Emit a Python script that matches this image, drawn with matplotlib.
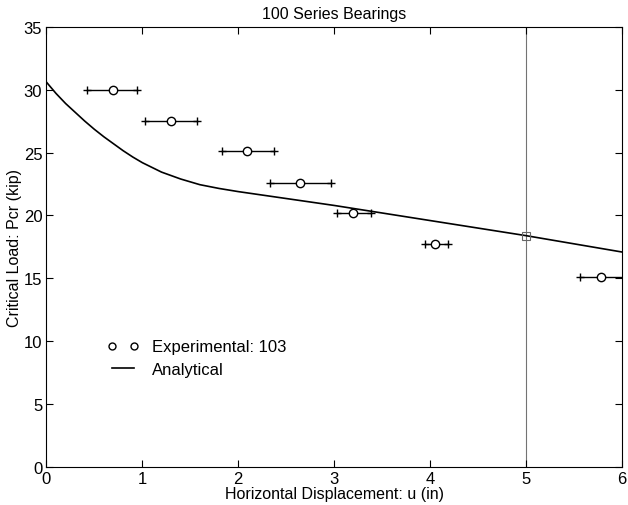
import matplotlib
matplotlib.use("Agg")
import matplotlib.pyplot as plt

plt.rcParams["font.family"] = ["Liberation Sans", "DejaVu Sans"]

# experimental points (mean, range of horizontal displacement)
exp_u = [0.69, 1.30, 2.09, 2.64, 3.20, 4.05, 5.78]
exp_lo = [0.42, 1.03, 1.83, 2.33, 3.03, 3.95, 5.56]
exp_hi = [0.94, 1.57, 2.37, 2.97, 3.38, 4.19, 6.20]
exp_p = [30.0, 27.5, 25.1, 22.6, 20.2, 17.7, 15.1]

# analytical curve
ana_u = [0, 0.1, 0.2, 0.3, 0.4, 0.5, 0.6, 0.7, 0.8, 0.9, 1.0, 1.2, 1.4, 1.6, 1.8, 2.0,
         2.5, 3.0, 3.5, 4.0, 4.5, 5.0, 5.5, 6.0]
ana_p = [30.6, 29.7, 28.9, 28.2, 27.5, 26.85, 26.25, 25.7, 25.15, 24.65, 24.2, 23.45,
         22.9, 22.45, 22.15, 21.9, 21.35, 20.8, 20.2, 19.6, 19.0, 18.4, 17.75, 17.1]

mark_u, mark_p = 5.0, 18.4

fig = plt.figure(figsize=(6.28, 5.06), dpi=100)
ax = fig.add_axes([0.074, 0.075, 0.916, 0.870])

ax.axvline(mark_u, color="0.45", lw=0.8, zorder=1)
ax.plot([mark_u], [mark_p], "s", mfc="none", mec="0.4", ms=6, mew=0.8, zorder=3)

for lo, hi, p in zip(exp_lo, exp_hi, exp_p):
    ax.plot([lo, hi], [p, p], "-", color="k", lw=1.0, marker="+", ms=6, mew=1.0)
h_exp, = ax.plot(exp_u, exp_p, "o", mfc="white", mec="k", ms=6, mew=1.0, ls="none",
                 zorder=4, label="Experimental: 103")
h_ana, = ax.plot(ana_u, ana_p, "-", color="k", lw=1.2, label="Analytical")

ax.set_xlim(0, 6)
ax.set_ylim(0, 35)
ax.set_xticks(range(0, 7))
ax.set_yticks(range(0, 36, 5))
ax.tick_params(direction="in", top=True, right=True, labelsize=12, length=5, pad=3)
ax.set_title("100 Series Bearings", fontsize=11.5, pad=6)
ax.set_xlabel("Horizontal Displacement: u (in)", fontsize=11.5, labelpad=0)
ax.set_ylabel("Critical Load: Pcr (kip)", fontsize=11.5, labelpad=1)

leg = ax.legend(handles=[h_exp, h_ana], loc="upper left", bbox_to_anchor=(0.105, 0.29),
                frameon=False, numpoints=2, fontsize=12, handlelength=1.9,
                handletextpad=0.8, labelspacing=0.45, borderpad=0, borderaxespad=0)
leg.legend_handles[0].set_markerfacecolor("none")
leg.legend_handles[0].set_markersize(5)

fig.savefig("out.png", dpi=100)
